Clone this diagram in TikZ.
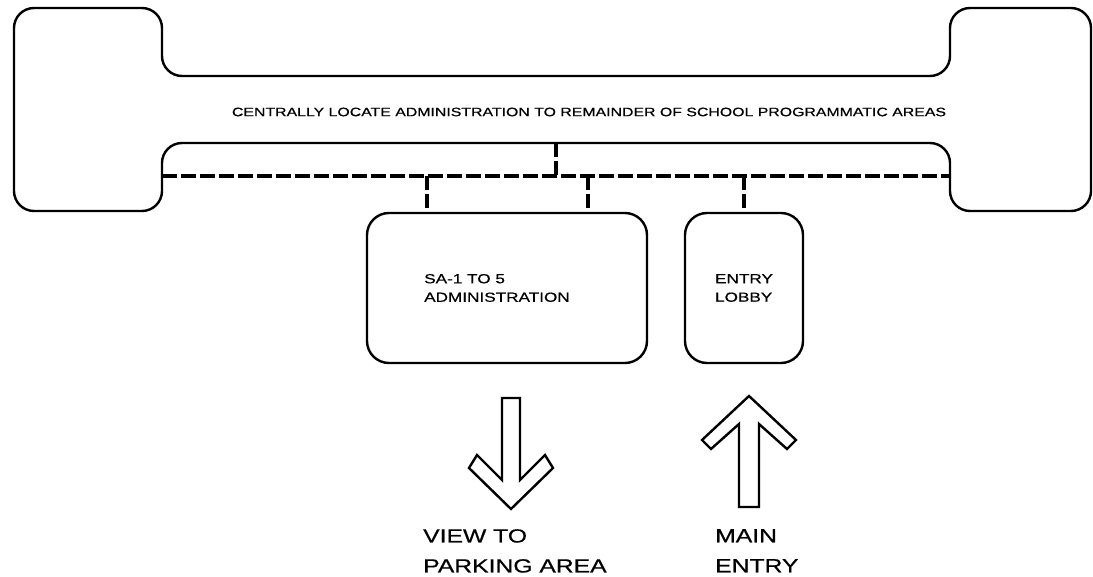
\documentclass[tikz,border=0pt]{standalone}
\usepackage{fontspec}
\newfontfamily\planfont[FakeStretch=1.3, FakeBold=0.6]{Liberation Sans}
\tikzset{
  outline/.style={line width=2.4pt, rounded corners=20pt},
  room/.style={draw, line width=2.4pt, rounded corners=22pt, inner sep=0pt},
  link/.style={line width=3.2pt, dash pattern=on 14pt off 4pt},
  spine/.style={line width=3.4pt, dash pattern=on 15pt off 4pt},
  boxtext/.style={font=\planfont\fontsize{13.2}{18.5}\selectfont, align=left, inner sep=0pt},
  biglabel/.style={font=\planfont\fontsize{19}{30}\selectfont, align=left, inner sep=0pt},
  chevron/.style={line width=2.4pt, line join=miter}
}
\begin{document}
\begin{tikzpicture}[x=1pt, y=-1pt]
    \useasboundingbox (0,0) rectangle (1093,577);

    % building spine
    \draw[outline] (14,8) -- (162,8) -- (162,76) -- (950,76) -- (950,8) -- (1091,8)
        -- (1091,211) -- (950,211) -- (950,143) -- (162,143) -- (162,211)
        -- (14,211) -- cycle;
    \node[font=\planfont\fontsize{12.2}{14}\selectfont, inner sep=0pt] (title) at (589,112)
        {CENTRALLY LOCATE ADMINISTRATION TO REMAINDER OF SCHOOL PROGRAMMATIC AREAS};

    \coordinate (spineL) at (162,176);
    \coordinate (spineR) at (950,176);
    \draw[spine] (spineL) -- (spineR);
    \draw[link, line width=3.6pt] (556,143) -- (556,176);

    % rooms
    \node[room, minimum width=280pt, minimum height=150pt] (admin) at (507,288) {};
    \node[boxtext, anchor=west] (admintext) at (424,288) {SA-1 TO 5\\ADMINISTRATION};
    \node[room, minimum width=118pt, minimum height=150pt] (lobby) at (744,288) {};
    \node[boxtext] (lobbytext) at (lobby.center) {ENTRY\\LOBBY};

    \coordinate (ja) at (427,176);
    \coordinate (jb) at (588,176);
    \coordinate (jc) at (744,176);
    \draw[link] (ja) -- (ja |- admin.north);
    \draw[link] (jb) -- (jb |- admin.north);
    \draw[link] (jc) -- (jc |- lobby.north);

    % arrows
    \draw[chevron] (502,398) -- (502,480) -- (477,455) -- (469,468) -- (511,509)
        -- (553,468) -- (545,455) -- (520,480) -- (520,398) -- cycle;
    \draw[chevron] (739,507) -- (739,424) -- (711,449) -- (702,440) -- (749,396)
        -- (796,440) -- (787,449) -- (759,424) -- (759,507) -- cycle;

    \node[biglabel, anchor=north west] (view) at (423,529) {VIEW TO\\PARKING AREA};
    \node[biglabel, anchor=north west] (entry) at (715,529) {MAIN\\ENTRY};
\end{tikzpicture}
\end{document}
